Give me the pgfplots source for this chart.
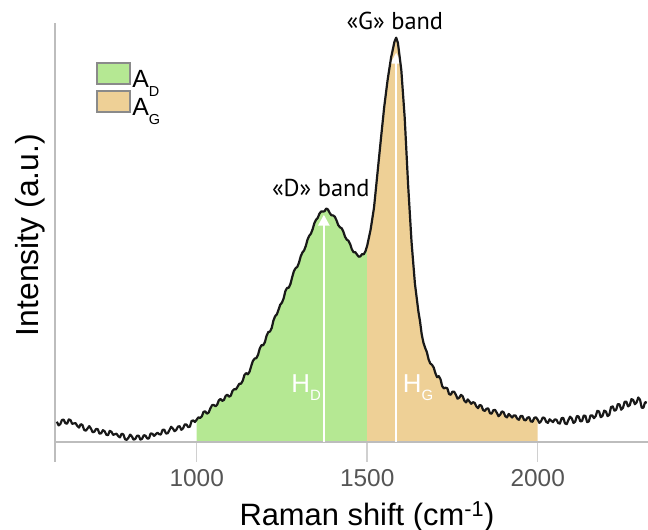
\documentclass[border=0pt]{standalone}
\usepackage{pgfplots}
\pgfplotsset{compat=1.18}
\usepackage{pgfplotstable}
\usepgfplotslibrary{fillbetween}
\usetikzlibrary{arrows.meta}
\usepackage{fontspec}
\setmainfont{Liberation Sans}
\newfontfamily\ptsans{PT Sans}
\definecolor{agreen}{HTML}{B5E893}
\definecolor{aorange}{HTML}{EED096}
\definecolor{spine}{HTML}{BDBDBD}
\definecolor{tickc}{HTML}{D0D0D0}
\definecolor{tlab}{HTML}{555555}
\definecolor{lbord}{HTML}{8A8A8A}
\newcommand\lsub[1]{\raisebox{-0.36em}{\fontsize{14.5}{14.5}\selectfont #1}}
\newcommand\hsub[1]{\raisebox{-0.33em}{\fontsize{15}{15}\selectfont #1}}
\pgfplotsset{
  greenbox/.style={legend image code/.code={\draw[fill=agreen, draw=lbord, line width=2bp] (0bp,-4bp) rectangle (33bp,17bp);}},
  orangebox/.style={legend image code/.code={\draw[fill=aorange, draw=lbord, line width=2bp] (0bp,-4bp) rectangle (33bp,17bp);}},
}

\pgfplotstableread{
x y
590 20
595 16.3
600 17.5
605 21.8
610 22
615 18.5
620 18
625 22.3
630 21.5
635 17.9
640 18.3
645 18.5
650 15.7
655 14.1
660 17.5
665 16.7
670 11.8
675 11
680 13.2
685 15.6
690 13
695 9.5
700 10
705 12.8
710 12.5
715 8
720 8.5
725 11.5
730 10.5
735 7
740 6.5
745 10.8
750 10
755 6.8
760 7.5
765 8
770 5.5
775 4.3
780 8
785 7.3
790 2.5
795 1.8
800 4
805 7.1
810 5.2
815 2
820 2.8
825 5.9
830 6
835 2
840 3
845 6.5
850 6
855 3.2
860 3.3
865 8.2
870 8
875 5.8
880 7.5
885 9
890 7.5
895 7.2
900 11.8
905 12
910 8.2
915 8.4
920 11.5
925 14.9
930 13.3
935 10.5
940 11.7
945 15.1
950 15.5
955 11.9
960 13.3
965 17.3
970 17.2
975 14.6
980 15
985 20.7
990 21.3
995 19.7
1000 22
1005 24.4
1010 23.7
1015 25.3
1020 29.8
1025 30.4
1030 28
1035 29.1
1040 33.2
1045 36.5
1050 36.8
1055 35.4
1060 37
1065 41.4
1070 42.7
1075 40.8
1080 41.8
1085 45.9
1090 47
1095 45
1100 46
1105 50.8
1110 52.5
1115 52.3
1120 55
1125 58
1130 58
1135 60.9
1140 66.7
1145 68.6
1150 67.4
1155 70
1160 75.7
1165 80.9
1170 83.1
1175 83.6
1180 87
1185 93.3
1190 96.5
1195 96.5
1200 99.5
1205 106
1210 109.6
1215 110.2
1220 113.7
1225 121.1
1230 125.5
1235 127.3
1240 132
1245 137
1250 139
1255 143.3
1260 150.5
1265 153.8
1270 154
1275 157.8
1280 164.5
1285 170.5
1290 173.5
1295 174.8
1300 179
1305 185.3
1310 189.2
1315 191.3
1320 195.8
1325 202.1
1330 205.9
1335 208
1340 212.5
1345 218.4
1350 221.9
1355 223.8
1360 228
1365 230.3
1370 230.1
1375 230.5
1380 233.2
1385 232.2
1390 228.8
1395 226.4
1400 226.3
1405 225
1410 221.4
1415 216.7
1420 214.4
1425 213.5
1430 210.2
1435 205
1440 202.1
1445 201
1450 197.6
1455 192.4
1460 189.5
1465 189.6
1470 187.2
1475 185
1480 185.3
1485 187.6
1490 187.4
1495 190.5
1500 196
1510 212
1520 234
1530 268
1540 302
1550 335
1560 362
1570 384
1580 400
1585 404
1590 399
1600 372
1610 324
1620 257
1630 200
1640 158
1645 144.3
1650 130.6
1655 120.3
1660 107.1
1665 99
1670 93.8
1675 89.6
1680 82.4
1685 78.2
1690 76.9
1695 74.2
1700 68.5
1705 64.5
1710 65.5
1715 62.5
1720 55.5
1725 53.3
1730 54
1735 53.4
1740 47.7
1745 46.9
1750 50.1
1755 50
1760 47
1765 43
1770 44
1775 46.8
1780 45.5
1785 40.9
1790 39.3
1795 42.3
1800 40.2
1805 37.9
1810 39.5
1815 38.9
1820 35.3
1825 33.5
1830 36.7
1835 36.1
1840 31.5
1845 30.8
1850 33
1855 33.3
1860 28.5
1865 28
1870 31.5
1875 31.8
1880 29
1885 25.5
1890 27
1895 30.3
1900 29.5
1905 25.4
1910 24.3
1915 27.7
1920 26
1925 24.2
1930 26.3
1935 26.2
1940 23
1945 21.9
1950 25.7
1955 25.8
1960 21.8
1965 21.4
1970 24
1975 24.6
1980 20.2
1985 20
1990 23.8
1995 24.4
2000 22
2005 18.8
2010 20.6
2015 24.2
2020 23.7
2025 19.8
2030 18.8
2035 22.4
2040 20.9
2045 19.6
2050 22.3
2055 22
2060 18.7
2065 18.1
2070 23.4
2075 23.9
2080 18.4
2085 17.5
2090 21.6
2095 25
2100 23.3
2105 18.7
2110 20.1
2115 25.7
2120 25.2
2125 20.4
2130 20.6
2135 26.2
2140 25.7
2145 19.5
2150 20.3
2155 26.3
2160 26.3
2165 23.5
2170 25.6
2175 30.9
2180 30.2
2185 24.5
2190 25.7
2195 31
2200 30.3
2205 25.6
2210 26.8
2215 34.6
2220 35.3
2225 31
2230 31.8
2235 37.6
2240 37.3
2245 32
2250 33.8
2255 39.9
2260 40
2265 35.3
2270 36.5
2275 42.6
2280 41.7
2285 37.5
2290 39.3
2295 44.2
2300 42
2305 34
2310 34
2315 39.5
2320 39
}\spectrum

\begin{document}
\begin{tikzpicture}
\begin{axis}[
  scale only axis,
  width=593bp, height=438.4bp,
  xmin=584.5, xmax=2323.5,
  ymin=-20, ymax=418.4,
  clip mode=individual,
  axis x line=bottom,
  axis y line=left,
  axis line style={-},
  x axis line style={draw=none},
  y axis line style={spine, line width=2bp},
  xtick={1000,1500,2000},
  ytick=\empty,
  xtick align=inside,
  major tick length=20bp,
  xtick style={tickc, line width=1.4bp},
  /pgf/number format/assume math mode=true,
  /pgf/number format/set thousands separator={},
  xticklabel style={font=\fontsize{24.5}{24.5}\selectfont, text=tlab, anchor=base, yshift=-25bp},
  xlabel={Raman shift (cm\textsuperscript{-1})},
  ylabel={Intensity (a.u.)},
  xlabel style={font=\fontsize{31}{31}\selectfont, at={(axis description cs:0.526,-0.1444)}, anchor=base},
  ylabel style={font=\fontsize{32}{32}\selectfont, at={(axis description cs:-0.027,0.517)}, anchor=base},
  legend style={at={(rel axis cs:0.0686,0.912)}, anchor=north west, draw=none, fill=none,
    inner sep=0pt, font=\fontsize{25}{25}\selectfont, row sep=-1bp,
    nodes={inner sep=1.5bp}},
  legend cell align=left,
]
\addlegendimage{greenbox}
\addlegendentry{A\lsub{D}}
\addlegendimage{orangebox}
\addlegendentry{A\lsub{G}}

\addplot[draw=none, name path=curve, forget plot] table[x=x, y=y] {\spectrum};
\addplot[draw=none, name path=base, forget plot] coordinates {(584.5,0) (2323.5,0)};
\addplot[agreen, forget plot] fill between[of=curve and base, soft clip={domain=1000:1500}];
\addplot[aorange, forget plot] fill between[of=curve and base, soft clip={domain=1500:2000}];
\addplot[spine, line width=2bp, forget plot] coordinates {(584.5,0) (2323.5,0)};

\addplot[white, line width=2.6bp, -{Triangle[width=11bp,length=11bp]}, forget plot]
  coordinates {(1373,0) (1373,227)};
\addplot[white, line width=2.6bp, -{Triangle[width=11bp,length=11bp]}, forget plot]
  coordinates {(1585,0) (1585,389)};

\addplot[black!90, line width=2.2bp, line join=round, forget plot] table[x=x, y=y] {\spectrum};

\node[white, anchor=base west, font=\fontsize{26}{26}\selectfont, inner sep=0pt]
  at (axis cs:1277,49.4) {H\hsub{D}};
\node[white, anchor=base west, font=\fontsize{26}{26}\selectfont, inner sep=0pt]
  at (axis cs:1604,49.4) {H\hsub{G}};
\node[anchor=base, font=\ptsans\fontsize{24.5}{24.5}\selectfont, inner sep=0pt]
  at (axis cs:1364,245) {«D» band};
\node[anchor=base, font=\ptsans\fontsize{24.5}{24.5}\selectfont, inner sep=0pt]
  at (axis cs:1581,411.7) {«G» band};
\end{axis}
\pgfresetboundingbox
\path (current axis.south west) ++(-55bp,-68.3bp) rectangle ++(648bp,530bp);
\end{tikzpicture}
\end{document}
